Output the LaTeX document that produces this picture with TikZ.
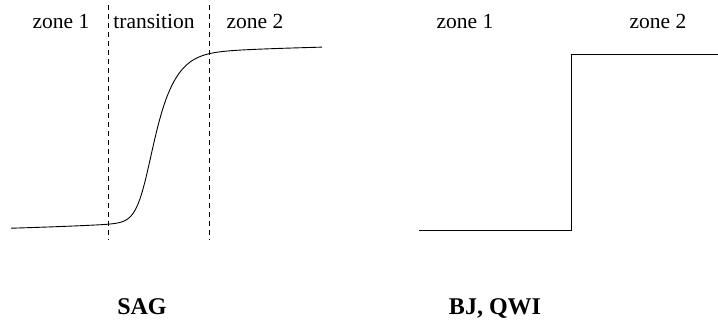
\documentclass[tikz,border=0pt]{standalone}
\usepackage{fontspec}
\setmainfont{Liberation Serif}
\begin{document}
\begin{tikzpicture}[x=1pt,y=-1pt,
  declare function={th(\u)=tanh(max(-6,min(6,\u)));
    kk(\u)=20+6*th((\u-155)/25);},
  lbl/.style={anchor=base,inner sep=0pt,font=\fontsize{21.5}{24}\selectfont},
  title/.style={anchor=base,inner sep=0pt,font=\fontsize{24}{28}\selectfont\bfseries},
  divider/.style={dash pattern=on 5pt off 4pt,line width=0.8pt},
  curve/.style={line width=0.9pt}]
\useasboundingbox (0,0) rectangle (718,324);
% left panel
\node[lbl] (z1a) at (61,28) {zone 1};
\node[lbl] (tr) at (154,28) {transition};
\node[lbl] (z2a) at (255,28) {zone 2};
\coordinate (d1t) at (108,5); \coordinate (d1b) at (108,240);
\coordinate (d2t) at (209,5); \coordinate (d2b) at (209,240);
\draw[divider] (d1t) -- (d1b);
\draw[divider] (d2t) -- (d2b);
\draw[curve] plot[domain=11:322,samples=300] (\x,{138-84*th((\x-155)/kk(\x))-4*th((\x-155)/120)-0.02*(\x-155)});
\node[title] (sag) at (142,314) {SAG};
% right panel
\node[lbl] (z1b) at (465,28) {zone 1};
\node[lbl] (z2b) at (658,28) {zone 2};
\coordinate (s0) at (419,230);
\coordinate (s1) at (571,230);
\coordinate (s2) at (571,54);
\coordinate (s3) at (718,54);
\draw[curve] (s0) -- (s1) -- (s2) -- (s3);
\node[title] (bj) at (495,314) {BJ, QWI};
\end{tikzpicture}
\end{document}
